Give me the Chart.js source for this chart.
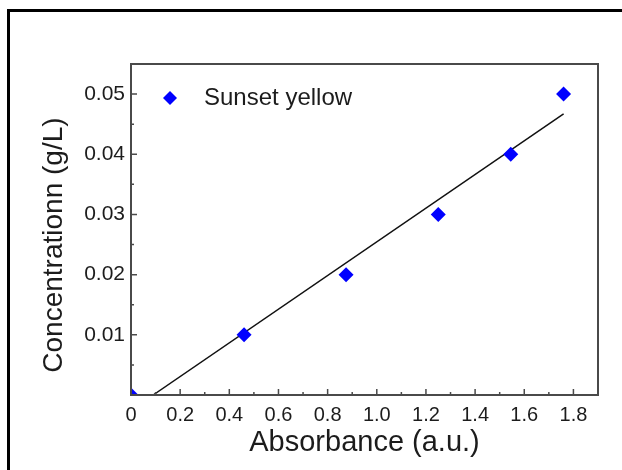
<!DOCTYPE html>
<html>
<head>
<meta charset="utf-8">
<script src="https://cdn.jsdelivr.net/npm/chart.js@4.4.1/dist/chart.umd.min.js"></script>
<style>
  html, body { margin: 0; padding: 0; overflow: hidden; background: #fff; }
  #wrap { position: relative; width: 622px; height: 470px; }
  #frame { position: absolute; left: 7px; top: 9px; width: 700px; height: 600px;
           border-left: 3px solid #000; border-top: 3px solid #000; pointer-events: none; }
  canvas { position: absolute; left: 0; top: 0; }
</style>
</head>
<body>
<div id="wrap">
  <canvas id="chart" width="622" height="470"></canvas>
  <div id="frame"></div>
</div>
<script>
// measured points
let absorbance = [0, 0.46, 0.875, 1.25, 1.545, 1.76];
let concentration = [0, 0.01, 0.02, 0.03, 0.04, 0.05];

// linear fit line (end points)
let fitX = [0.09, 1.76];
let fitY = [0, 0.0467];

// ticks
let xTicks = [0, 0.2, 0.4, 0.6, 0.8, 1.0, 1.2, 1.4, 1.6, 1.8];
let xMinor = [0.1, 0.3, 0.5, 0.7, 0.9, 1.1, 1.3, 1.5, 1.7];
let yTicks = [0.01, 0.02, 0.03, 0.04, 0.05];
let yMinor = [0.005, 0.015, 0.025, 0.035, 0.045];

const axisColor = '#4a4a4a';
const textColor = '#1c1c1c';
const fontFamily = "'Liberation Sans', Arial, sans-serif";

// ticks pointing into the plot + closed frame
const inwardTicks = {
    id: 'inwardTicks',
    afterDatasetsDraw(chart) {
        const {ctx, chartArea: a, scales: {x, y}} = chart;
        ctx.save();
        ctx.strokeStyle = axisColor;
        ctx.lineWidth = 1.5;
        ctx.beginPath();
        xTicks.forEach(v => {
            const px = x.getPixelForValue(v);
            ctx.moveTo(px, a.bottom);
            ctx.lineTo(px, a.bottom - 6);
        });
        xMinor.forEach(v => {
            const px = x.getPixelForValue(v);
            ctx.moveTo(px, a.bottom);
            ctx.lineTo(px, a.bottom - 3);
        });
        yTicks.forEach(v => {
            const py = y.getPixelForValue(v);
            ctx.moveTo(a.left, py);
            ctx.lineTo(a.left + 6, py);
        });
        yMinor.forEach(v => {
            const py = y.getPixelForValue(v);
            ctx.moveTo(a.left, py);
            ctx.lineTo(a.left + 3, py);
        });
        ctx.stroke();
        ctx.lineWidth = 2;
        ctx.strokeRect(a.left, a.top, a.right - a.left, a.bottom - a.top);
        ctx.restore();
    }
};

// legend sitting inside the plot, top left
const insideLegend = {
    id: 'insideLegend',
    afterDraw(chart) {
        const {ctx, chartArea: a} = chart;
        const ds = chart.data.datasets[0];
        const px = a.left + 39;
        const py = a.top + 34;
        ctx.save();
        ctx.fillStyle = ds.backgroundColor;
        ctx.strokeStyle = ds.borderColor;
        Chart.helpers.drawPoint(ctx, {pointStyle: 'rectRot', radius: 7, borderWidth: 0}, px, py);
        ctx.fillStyle = textColor;
        ctx.font = '24px ' + fontFamily;
        ctx.textBaseline = 'middle';
        ctx.textAlign = 'left';
        ctx.fillText(ds.label, a.left + 73, py);
        ctx.restore();
    }
};

new Chart('chart', {
    type: 'scatter',
    data: {
        datasets: [{
            label: 'Sunset yellow',
            data: absorbance.map((v, i) => ({x: v, y: concentration[i]})),
            backgroundColor: '#0000ff',
            borderColor: '#0000ff',
            pointStyle: 'rectRot',
            pointRadius: 7.5,
            borderWidth: 0
        }, {
            type: 'line',
            label: 'fit',
            data: fitX.map((v, i) => ({x: v, y: fitY[i]})),
            borderColor: '#111',
            borderWidth: 1.5,
            pointRadius: 0,
            fill: false
        }]
    },
    options: {
        responsive: false,
        animation: false,
        layout: {padding: {top: 64, right: 24, left: 0, bottom: 0}},
        plugins: {
            legend: {display: false},
            tooltip: {enabled: false}
        },
        scales: {
            x: {
                type: 'linear',
                min: 0,
                max: 1.9,
                afterBuildTicks: s => { s.ticks = xTicks.map(v => ({value: v})); },
                afterFit: s => { s.height = 75; },
                grid: {display: false, drawTicks: false},
                border: {display: false},
                ticks: {
                    padding: 8,
                    color: textColor,
                    font: {family: fontFamily, size: 20},
                    callback: v => v === 0 ? '0' : v.toFixed(1)
                },
                title: {
                    display: true,
                    text: 'Absorbance (a.u.)',
                    color: textColor,
                    font: {family: fontFamily, size: 29},
                    padding: {top: 0, bottom: 10}
                }
            },
            y: {
                type: 'linear',
                min: 0,
                max: 0.055,
                afterBuildTicks: s => { s.ticks = yTicks.map(v => ({value: v})); },
                afterFit: s => { s.width = 131; },
                grid: {display: false, drawTicks: false},
                border: {display: false},
                ticks: {
                    padding: 6,
                    color: textColor,
                    font: {family: fontFamily, size: 21},
                    callback: v => v.toFixed(2)
                },
                title: {
                    display: true,
                    // trailing spaces nudge the rotated title down, as in the original
                    text: 'Concentrationn (g/L)    ',
                    color: textColor,
                    font: {family: fontFamily, size: 28},
                    padding: {top: 37, bottom: 0}
                }
            }
        }
    },
    plugins: [inwardTicks, insideLegend]
});
</script>
</body>
</html>
